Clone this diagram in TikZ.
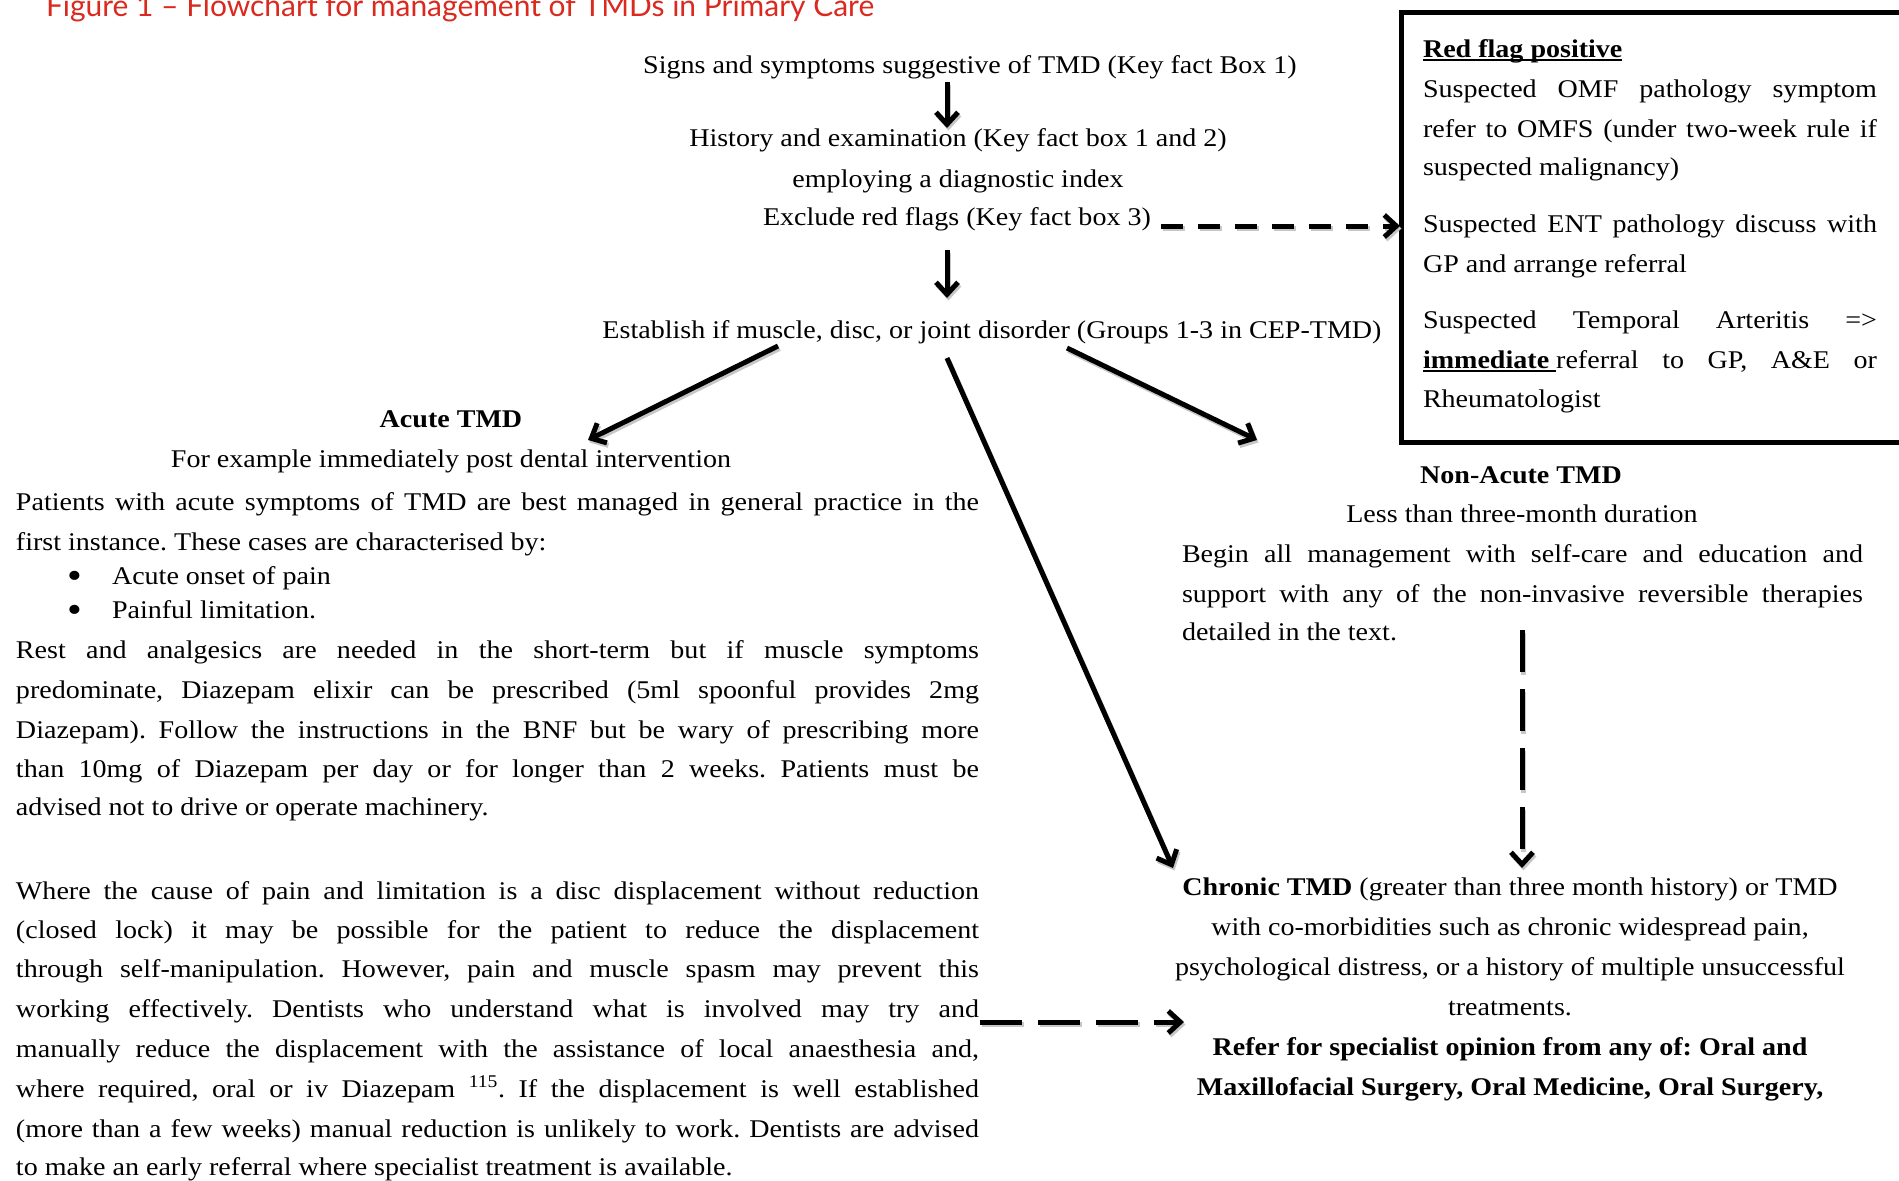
\documentclass[tikz,border=0pt]{standalone}
\usepackage{fontspec}
\usepackage{graphicx}
\setmainfont{Liberation Serif}[FakeStretch=1.1]
\newfontfamily\titlefont{Lato}
\usetikzlibrary{arrows.meta}
\definecolor{titlered}{RGB}{218,41,30}
\frenchspacing
\newcommand\bodyfont{\fontsize{25.5}{30}\selectfont\frenchspacing}
\newcommand\myul[1]{\setbox0=\hbox{#1}\rlap{\rule[-3.5pt]{\wd0}{1.8pt}}\box0}
\newcommand\JL[1]{\makebox[963pt][s]{#1}}
\newcommand\JN[1]{\makebox[681pt][s]{#1}}
\newcommand\JR[1]{\makebox[454pt][s]{#1}}
\newcommand\bigbullet{\smash{\raisebox{-4.5pt}{\scalebox{1.5}{\textbullet}}}}
\tikzset{
  every node/.style={inner sep=0pt, outer sep=0pt, font=\bodyfont},
  lft/.style={anchor=base west},
  ctr/.style={anchor=base},
  tipv/.tip={Straight Barb[length=12pt,width=22pt]},
  arr/.style={line width=5pt, -tipv,
    preaction={draw=black!22, line width=5pt, -tipv,
      transform canvas={shift={(1.5pt,-2.5pt)}}}},
  darr/.style={line width=5pt, -tipv, dash pattern=#1,
    preaction={draw=black!22, line width=5pt, -tipv, dash pattern=#1,
      transform canvas={shift={(1.5pt,-2.5pt)}}}},
}
\begin{document}
\begin{tikzpicture}[x=1pt,y=-1pt]
\useasboundingbox (0,0) rectangle (1899,1181);

% title
\node[lft, text=titlered] (title) at (46,16)
  {\resizebox{828pt}{!}{\titlefont Figure 1 – Flowchart for management of TMDs in Primary Care}};

% central flow
\node[ctr] (signs) at (970,73) {Signs and symptoms suggestive of TMD (Key fact Box 1)};
\node[ctr] (hist) at (958,146) {History and examination (Key fact box 1 and 2)};
\node[ctr] (employ) at (958,187) {employing a diagnostic index};
\node[ctr] (excl) at (957,225) {Exclude red flags (Key fact box 3)};
\node[ctr] (estab) at (992,338) {Establish if muscle, disc, or joint disorder (Groups 1-3 in CEP-TMD)};

% red flag box
\draw[line width=5pt] (1920,12) -- (1401,12) -- (1401,442) -- (1920,442);
\coordinate (boxw) at (1400,226);
\node[lft] (r0) at (1423,57) {\myul{\textbf{Red flag positive}}};
\node[lft] (r1) at (1423,97) {\JR{Suspected OMF pathology symptom}};
\node[lft] (r2) at (1423,137) {\JR{refer to OMFS (under two-week rule if}};
\node[lft] (r3) at (1423,175) {suspected malignancy)};
\node[lft] (r4) at (1423,232) {\JR{Suspected ENT pathology discuss with}};
\node[lft] (r5) at (1423,272) {GP and arrange referral};
\node[lft] (r6) at (1423,328) {\JR{Suspected Temporal Arteritis =>}};
\node[lft] (r7) at (1423,368) {\JR{\myul{\textbf{immediate}\hspace{7pt}}referral to GP, A\&E or}};
\node[lft] (r8) at (1423,407) {Rheumatologist};

% acute
\node[ctr] (acute) at (451,427) {\textbf{Acute TMD}};
\node[ctr] (forex) at (451,467) {For example immediately post dental intervention};
\node[lft] (l1) at (16,510) {\JL{Patients with acute symptoms of TMD are best managed in general practice in the}};
\node[lft] (l2) at (16,550) {first instance. These cases are characterised by:};
\node[lft] (b1) at (67,584) {\bigbullet};
\node[lft] (b1t) at (112,584) {Acute onset of pain};
\node[lft] (b2) at (67,618) {\bigbullet};
\node[lft] (b2t) at (112,618) {Painful limitation.};
\node[lft] (l3) at (16,658) {\JL{Rest and analgesics are needed in the short-term but if muscle symptoms}};
\node[lft] (l4) at (16,698) {\JL{predominate, Diazepam elixir can be prescribed (5ml spoonful provides 2mg}};
\node[lft] (l5) at (16,738) {\JL{Diazepam). Follow the instructions in the BNF but be wary of prescribing more}};
\node[lft] (l6) at (16,777) {\JL{than 10mg of Diazepam per day or for longer than 2 weeks. Patients must be}};
\node[lft] (l7) at (16,815) {advised not to drive or operate machinery.};
\node[lft] (p1) at (16,899) {\JL{Where the cause of pain and limitation is a disc displacement without reduction}};
\node[lft] (p2) at (16,938) {\JL{(closed lock) it may be possible for the patient to reduce the displacement}};
\node[lft] (p3) at (16,977) {\JL{through self-manipulation. However, pain and muscle spasm may prevent this}};
\node[lft] (p4) at (16,1017) {\JL{working effectively. Dentists who understand what is involved may try and}};
\node[lft] (p5) at (16,1057) {\JL{manually reduce the displacement with the assistance of local anaesthesia and,}};
\node[lft] (p6) at (16,1097) {\JL{where required, oral or iv Diazepam \textsuperscript{115}. If the displacement is well established}};
\node[lft] (p7) at (16,1137) {\JL{(more than a few weeks) manual reduction is unlikely to work. Dentists are advised}};
\node[lft] (p8) at (16,1175) {to make an early referral where specialist treatment is available.};

% non-acute
\node[ctr] (nonacute) at (1521,483) {\textbf{Non-Acute TMD}};
\node[ctr] (less) at (1522,522) {Less than three-month duration};
\node[lft] (n1) at (1182,562) {\JN{Begin all management with self-care and education and}};
\node[lft] (n2) at (1182,602) {\JN{support with any of the non-invasive reversible therapies}};
\node[lft] (n3) at (1182,640) {detailed in the text.};

% chronic
\node[ctr] (c1) at (1510,895) {\textbf{Chronic TMD} (greater than three month history) or TMD};
\node[ctr] (c2) at (1510,935) {with co-morbidities such as chronic widespread pain,};
\node[ctr] (c3) at (1510,975) {psychological distress, or a history of multiple unsuccessful};
\node[ctr] (c4) at (1510,1015) {treatments.};
\node[ctr] (c5) at (1510,1055) {\textbf{Refer for specialist opinion from any of: Oral and}};
\node[ctr] (c6) at (1510,1095) {\textbf{Maxillofacial Surgery, Oral Medicine, Oral Surgery,}};

% connector end points
\coordinate (a1s) at (947,82);   \coordinate (a1e) at (947,128);
\coordinate (rfs) at (1161,226);
\coordinate (a2s) at (947,250);  \coordinate (a2e) at (947,298);
\coordinate (als) at (778,346);  \coordinate (ale) at (588,440);
\coordinate (ams) at (947,358);  \coordinate (ame) at (1173,868);
\coordinate (ars) at (1067,348); \coordinate (are) at (1257,440);
\coordinate (nvs) at (1522,630); \coordinate (nve) at (1522,868);
\coordinate (bhs) at (980,1022); \coordinate (bhe) at (1184,1022);

% connectors
\draw[arr] (a1s) -- (a1e);
\draw[darr={on 22pt off 15pt}] (rfs) -- (boxw);
\draw[arr] (a2s) -- (a2e);
\draw[arr] (als) -- (ale);
\draw[arr] (ams) -- (ame);
\draw[arr] (ars) -- (are);
\draw[darr={on 42pt off 17pt}] (nvs) -- (nve);
\draw[darr={on 42pt off 16pt}] (bhs) -- (bhe);
\end{tikzpicture}
\end{document}
